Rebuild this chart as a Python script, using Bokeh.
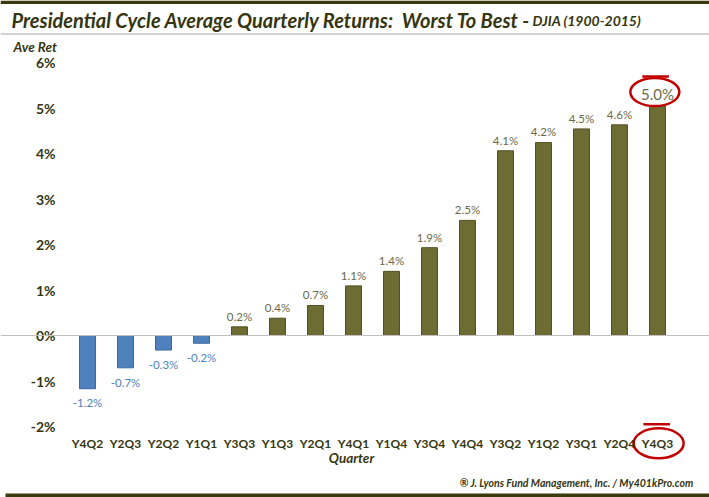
from bokeh.plotting import figure
from bokeh.models import (ColumnDataSource, FixedTicker, Span, Label, BoxAnnotation,
                          Range1d)
from bokeh.core.properties import value
from bokeh.embed import file_html
from bokeh.resources import INLINE

quarters = ["Y4Q2", "Y2Q3", "Y2Q2", "Y1Q1", "Y3Q3", "Y1Q3", "Y2Q1", "Y4Q1",
            "Y1Q4", "Y3Q4", "Y4Q4", "Y3Q2", "Y1Q2", "Y3Q1", "Y2Q4", "Y4Q3"]
returns = [-1.17, -0.71, -0.32, -0.17, 0.19, 0.38, 0.66, 1.09,
           1.41, 1.93, 2.53, 4.06, 4.24, 4.54, 4.63, 5.04]
labels = ["-1.2%", "-0.7%", "-0.3%", "-0.2%", "0.2%", "0.4%", "0.7%", "1.1%",
          "1.4%", "1.9%", "2.5%", "4.1%", "4.2%", "4.5%", "4.6%", "5.0%"]
y_ticks = [-2, -1, 0, 1, 2, 3, 4, 5, 6]

W, H = 709, 497
OLIVE = "#6d6d33"
OLIVE_EDGE = "#505024"
BLUE = "#4f81bd"
BLUE_EDGE = "#3b679d"
DARK = "#35350f"
LBL_OLIVE = "#6a6a48"
RED = "#c00000"

xs = list(range(len(quarters)))
fill = [BLUE if v < 0 else OLIVE for v in returns]
edge = [BLUE_EDGE if v < 0 else OLIVE_EDGE for v in returns]
tcol = [BLUE if v < 0 else LBL_OLIVE for v in returns]
ty = [v - 0.17 if v < 0 else v + 0.09 for v in returns]
tbase = ["top" if v < 0 else "bottom" for v in returns]

src = ColumnDataSource(dict(x=xs, r=returns, fill=fill, edge=edge))

# pixel geometry: category pitch 38px, first centre at 87px; 0% at 335px, 45.5px per 1%
PX_X, X0 = 38.0, 87.0
PX_Y, Y0 = 45.5, 335.0
p = figure(width=W, height=H,
           x_range=Range1d(-X0 / PX_X, (W - X0) / PX_X),
           y_range=Range1d(-(H - Y0) / PX_Y, Y0 / PX_Y),
           output_backend="svg", toolbar_location=None,
           min_border_left=0, min_border_right=0, min_border_top=0,
           min_border_bottom=0)
p.title.visible = False
p.outline_line_color = None
p.grid.visible = False
p.background_fill_color = "white"
p.border_fill_color = "white"

p.vbar(x="x", top="r", bottom=0, width=0.42, source=src,
       fill_color="fill", line_color="edge", line_width=1)

p.add_layout(Span(location=0, dimension="width", line_color="#c0c0c0",
                  line_width=1))

src_l = ColumnDataSource(dict(x=xs[:-1], ty=ty[:-1], lab=labels[:-1],
                              tcol=tcol[:-1], tbase=tbase[:-1]))
p.text(x="x", y="ty", text="lab", source=src_l, text_color="tcol",
       text_align="center", text_baseline="tbase", text_font=value("Lato"),
       text_font_size="11.5px")
# highlighted best quarter
p.text(x=[xs[-1]], y=[5.3], text=[labels[-1]], text_color=LBL_OLIVE,
       text_align="center", text_baseline="middle", text_font=value("Lato"),
       text_font_size="15px")
p.ellipse(x=[xs[-1] - 0.07], y=[5.35], width=49, height=28, width_units="screen",
          height_units="screen", fill_color=None, line_color=RED, line_width=2.5)
p.ellipse(x=[xs[-1] + 0.03], y=[-2.37], width=50, height=30, width_units="screen",
          height_units="screen", fill_color=None, line_color=RED, line_width=2.5)
p.segment(x0=[xs[-1] - 0.4], x1=[xs[-1] + 0.3], y0=[5.69], y1=[5.69],
          line_color=RED, line_width=2.5)
p.segment(x0=[xs[-1] - 0.37], x1=[xs[-1] + 0.33], y0=[-1.95], y1=[-1.95],
          line_color=RED, line_width=2.5)

# y axis
p.yaxis.fixed_location = -0.71
p.yaxis.ticker = FixedTicker(ticks=y_ticks)
p.yaxis.major_label_overrides = {t: f"{t}%" for t in y_ticks}
p.yaxis.axis_line_color = None
p.yaxis.major_tick_line_color = None
p.yaxis.minor_tick_line_color = None
p.yaxis.major_tick_out = 0
p.yaxis.minor_tick_out = 0
p.yaxis.major_label_standoff = 5
p.yaxis.major_label_text_font = "Lato"
p.yaxis.major_label_text_font_style = "bold"
p.yaxis.major_label_text_font_size = "14px"
p.yaxis.major_label_text_color = DARK

# x axis
p.xaxis.fixed_location = -2.09
p.xaxis.ticker = FixedTicker(ticks=xs)
p.xaxis.major_label_overrides = {i: q for i, q in zip(xs, quarters)}
p.xaxis.axis_line_color = None
p.xaxis.major_tick_line_color = None
p.xaxis.minor_tick_line_color = None
p.xaxis.major_tick_out = 0
p.xaxis.minor_tick_out = 0
p.xaxis.major_label_standoff = 5
p.xaxis.major_label_text_font = "Lato"
p.xaxis.major_label_text_font_style = "bold"
p.xaxis.major_label_text_font_size = "12px"
p.xaxis.major_label_text_color = DARK

# decorations (screen units measured from bottom-left)
p.add_layout(BoxAnnotation(left=0, right=W, bottom=H - 3.5, top=H,
                           left_units="screen", right_units="screen",
                           bottom_units="screen", top_units="screen",
                           fill_color="#3a3a0e", fill_alpha=1, line_color=None))
p.add_layout(BoxAnnotation(left=0, right=W, bottom=H - 34, top=H - 33,
                           left_units="screen", right_units="screen",
                           bottom_units="screen", top_units="screen",
                           fill_color="#a8a8a8", fill_alpha=1, line_color=None))
p.add_layout(BoxAnnotation(left=5, right=W, bottom=0, top=4,
                           left_units="screen", right_units="screen",
                           bottom_units="screen", top_units="screen",
                           fill_color="#3a3a0e", fill_alpha=1, line_color=None))

p.add_layout(Label(x=11, y=H - 19, x_units="screen", y_units="screen",
                   text="Presidential Cycle Average Quarterly Returns:\u00a0 Worst To Best -",
                   text_font="Lato", text_font_style="bold italic",
                   text_font_size="20px", text_color=DARK, text_baseline="middle"))
p.add_layout(Label(x=532, y=H - 20, x_units="screen", y_units="screen",
                   text="DJIA (1900-2015)", text_font="Lato",
                   text_font_style="bold italic", text_font_size="14px",
                   text_color=DARK, text_baseline="middle"))
p.add_layout(Label(x=13, y=H - 46, x_units="screen", y_units="screen",
                   text="Ave Ret", text_font="Lato", text_font_style="bold italic",
                   text_font_size="13.5px", text_color=DARK, text_baseline="middle"))
p.add_layout(Label(x=351, y=H - 457, x_units="screen", y_units="screen",
                   text="Quarter", text_font="Lato", text_font_style="bold italic",
                   text_font_size="13.5px", text_color=DARK, text_align="center",
                   text_baseline="middle"))
p.add_layout(Label(x=693, y=H - 482, x_units="screen", y_units="screen",
                   text="\u00ae J. Lyons Fund Management, Inc. / My401kPro.com",
                   text_font="Lato", text_font_style="bold italic",
                   text_font_size="10.5px", text_color=DARK, text_align="right",
                   text_baseline="middle"))

out = file_html(p, INLINE)
open("out.html", "w").write(out)
